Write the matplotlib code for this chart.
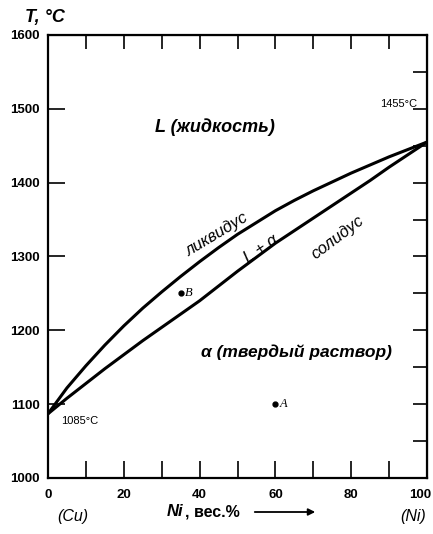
import matplotlib
matplotlib.use("Agg")
import matplotlib.pyplot as plt
import matplotlib.transforms as mtransforms
import numpy as np

plt.rcParams['font.family'] = ['Liberation Sans', 'DejaVu Sans']

# Data
ni = [0, 5, 10, 15, 20, 25, 30, 35, 40, 45, 50, 55, 60, 65, 70, 75, 80, 85, 90, 95, 100]
liquidus = [1087, 1122, 1152, 1180, 1206, 1230, 1252, 1273, 1293, 1312, 1330, 1346,
            1362, 1376, 1389, 1401, 1413, 1424, 1435, 1445, 1455]
solidus = [1087, 1108, 1128, 1148, 1167, 1186, 1204, 1222, 1240, 1260, 1280, 1299,
           1318, 1335, 1352, 1369, 1386, 1403, 1421, 1438, 1455]
points_x = [35, 60]
points_t = [1250, 1100]
points_lbl = ['B', 'A']
xticks = [0, 20, 40, 60, 80, 100]
yticks = [1000, 1100, 1200, 1300, 1400, 1500, 1600]

fig = plt.figure(figsize=(4.33, 5.34), dpi=100)
ax = fig.add_axes([48/433, 56/534, 379/433, 443/534])

ax.plot(ni, liquidus, color='black', lw=2.2, solid_capstyle='round', solid_joinstyle='round')
ax.plot(ni, solidus, color='black', lw=2.2, solid_capstyle='round', solid_joinstyle='round')
ax.plot(points_x, points_t, 'o', color='black', ms=3.5)
for x, t, l in zip(points_x, points_t, points_lbl):
    ax.text(x + 1.2, t, l, fontsize=9, fontstyle='italic', family='Liberation Serif',
            va='center', ha='left')

ax.set_xlim(0, 100)
ax.set_ylim(1000, 1600)
for s in ax.spines.values():
    s.set_linewidth(1.6)

ax.set_xticks(xticks)
ax.set_xticks(np.arange(0, 101, 10), minor=True)
ax.set_yticks(yticks)
ax.tick_params(axis='x', which='both', direction='in', length=12, width=1.2, pad=8,
               labelsize=9.5)
ax.tick_params(axis='y', which='both', direction='in', length=12, width=1.2, pad=6,
               labelsize=9.5)
fig.canvas.draw()
for lab in ax.get_xticklabels() + ax.get_yticklabels():
    lab.set_fontweight('bold')
last = ax.get_xticklabels()[-1]
last.set_transform(last.get_transform() +
                   mtransforms.ScaledTranslation(-7/100, 0, fig.dpi_scale_trans))

sy = ax.secondary_yaxis('right')
sy.set_yticks(np.arange(1000, 1601, 50))
sy.tick_params(direction='in', length=10, width=1.2, labelright=False)
sx = ax.secondary_xaxis('top')
sx.set_xticks(np.arange(0, 101, 10))
sx.tick_params(direction='in', length=10, width=1.2, labeltop=False)

# Region texts
ax.text(44, 1475, 'L (жидкость)', fontsize=13, fontstyle='italic', fontweight='bold',
        ha='center', va='center')
ax.text(65.5, 1170, 'α (твердый раствор)', fontsize=12.5, fontstyle='italic',
        fontweight='bold', ha='center', va='center')
ax.text(92.5, 1506, '1455°C', fontsize=8, ha='center', va='center')
ax.text(8.4, 1077, '1085°C', fontsize=8, ha='center', va='center')
ax.text(44.6, 1330, 'ликвидус', fontsize=12, fontstyle='italic', rotation=31,
        ha='center', va='center', rotation_mode='anchor')
ax.text(56.2, 1310, 'L + α', fontsize=12, fontstyle='italic', rotation=34,
        ha='center', va='center', rotation_mode='anchor')
ax.text(76.3, 1326, 'солидус', fontsize=12, fontstyle='italic', rotation=37,
        ha='center', va='center', rotation_mode='anchor')

# Axis titles
fig.text(0.104, 0.968, 'T, °C', fontsize=13, fontstyle='italic', fontweight='bold',
         ha='center', va='center')
fig.text(73/433, 1 - 516/534, '(Cu)', fontsize=11.5, fontstyle='italic',
         ha='center', va='center')
fig.text(413/433, 1 - 516/534, '(Ni)', fontsize=11.5, fontstyle='italic',
         ha='center', va='center')
fig.text(167/433, 1 - 512/534, 'Ni', fontsize=12, fontstyle='italic', fontweight='bold',
         ha='left', va='center')
fig.text(185/433, 1 - 512/534, ', вес.%', fontsize=11.5, fontweight='bold',
         ha='left', va='center')
fig.add_artist(matplotlib.patches.FancyArrowPatch(
    (252/433, 1 - 512/534), (318/433, 1 - 512/534), transform=fig.transFigure,
    arrowstyle='-|>', mutation_scale=10, color='black', lw=1.3))

fig.savefig('out.png', dpi=100, facecolor='white')
